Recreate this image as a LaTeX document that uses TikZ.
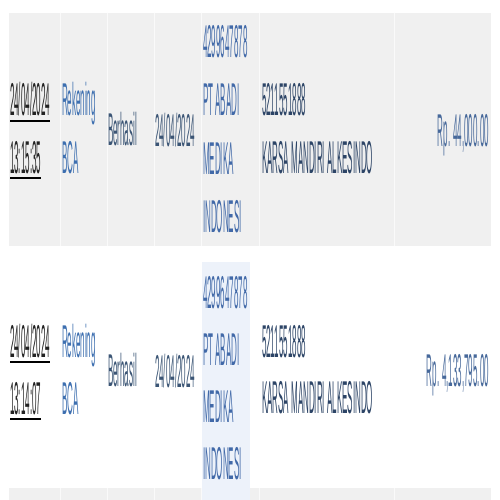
\documentclass[tikz,border=0pt]{standalone}
\usepackage{fontspec}
\setmainfont{Liberation Sans}
\definecolor{rowgray}{HTML}{F0F0F0}
\definecolor{selblue}{HTML}{EDF2FA}
\definecolor{linkblue}{HTML}{3D6FB0}
\definecolor{acctblue}{HTML}{4169A8}
\definecolor{slate}{HTML}{3B5575}
\definecolor{navy}{HTML}{2C4466}
\definecolor{amount}{HTML}{46689A}
\definecolor{datedark}{HTML}{222222}

\begin{document}
\begin{tikzpicture}[x=1pt,y=-1pt,
  cell/.style={inner sep=0pt,anchor=base west,xscale=0.174,font=\fontsize{46}{57}\selectfont},
  cellr/.style={cell,anchor=base east},
  ulink/.style={line width=2.5pt,black},
  sep/.style={line width=0.6pt,white!70!rowgray}]
\useasboundingbox[fill=white] (0,0) rectangle (500,500);

% rows
\fill[rowgray] (9,13) rectangle (491,246);
\fill[rowgray] (9,488) rectangle (491,500);
\fill[selblue] (202,262) rectangle (250,500);
\foreach \x in {60,107,154,201,259,394}
  \draw[sep] (\x,13) -- (\x,246) (\x,488) -- (\x,500);

% first transfer
\node[cell,text=datedark] (d1a) at (10,116) {24/04/2024};
\node[cell,text=datedark] (d1b) at (10,173) {13:15:35};
\draw[ulink] ([yshift=-5pt]d1a.base west) -- ([yshift=-5pt]d1a.base east);
\draw[ulink] ([yshift=-5pt]d1b.base west) -- ([yshift=-5pt]d1b.base east);
\node[cell,text=linkblue] (src1a) at (62,116) {Rekening};
\node[cell,text=linkblue] (src1b) at (62,173) {BCA};
\node[cell,text=slate] (st1) at (108,145) {Berhasil};
\node[cell,text=slate] (dt1) at (155,146) {24/04/2024};
\foreach \t [count=\i] in {4299647878,PT ABADI,MEDIKA,INDONESI}
  \node[cell,text=acctblue] (pa\i) at (203,{58+58*(\i-1)}) {\t};
\node[cell,text=navy] (to1a) at (262,116) {5211551888};
\node[cell,text=navy] (to1b) at (262,173) {KARSA MANDIRI ALKESINDO};
\node[cellr,text=amount] (rp1) at (489,146) {Rp. 44,000.00};

% second transfer
\node[cell,text=datedark] (d2a) at (10,357) {24/04/2024};
\node[cell,text=datedark] (d2b) at (10,414) {13:14:07};
\draw[ulink] ([yshift=-5pt]d2a.base west) -- ([yshift=-5pt]d2a.base east);
\draw[ulink] ([yshift=-5pt]d2b.base west) -- ([yshift=-5pt]d2b.base east);
\node[cell,text=linkblue] (src2a) at (62,357) {Rekening};
\node[cell,text=linkblue] (src2b) at (62,414) {BCA};
\node[cell,text=slate] (st2) at (108,386) {Berhasil};
\node[cell,text=slate] (dt2) at (155,387) {24/04/2024};
\foreach \t [count=\i] in {4299647878,PT ABADI,MEDIKA,INDONESI}
  \node[cell,text=acctblue] (pb\i) at (203,{308+57.3*(\i-1)}) {\t};
\node[cell,text=navy] (to2a) at (262,357) {5211551888};
\node[cell,text=navy] (to2b) at (262,413) {KARSA MANDIRI ALKESINDO};
\node[cellr,text=amount] (rp2) at (489,386) {Rp. 4,133,795.00};

\end{tikzpicture}
\end{document}
